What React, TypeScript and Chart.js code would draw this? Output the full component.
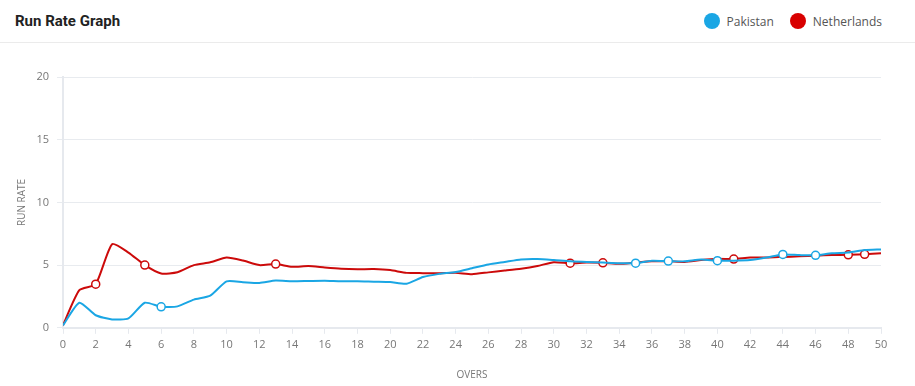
import React, { useEffect, useRef } from "react";
import { Chart, registerables } from "chart.js";

Chart.register(...registerables);

const overs: number[] = Array.from({ length: 51 }, (_, i) => i);

const pakistanRR: number[] = [
  0.2, 2.0, 1.0, 0.67, 0.75, 2.0, 1.67, 1.71, 2.25, 2.56,
  3.7, 3.64, 3.58, 3.77, 3.71, 3.73, 3.75, 3.71, 3.72, 3.68,
  3.65, 3.52, 4.05, 4.3, 4.45, 4.75, 5.05, 5.25, 5.45, 5.48,
  5.4, 5.3, 5.25, 5.2, 5.15, 5.15, 5.35, 5.32, 5.3, 5.45,
  5.35, 5.35, 5.4, 5.6, 5.85, 5.8, 5.78, 5.95, 6.0, 6.2, 6.25,
];

const netherlandsRR: number[] = [
  0.2, 3.0, 3.48, 6.67, 6.0, 5.0, 4.33, 4.43, 5.0, 5.22,
  5.6, 5.36, 5.0, 5.08, 4.86, 4.93, 4.81, 4.71, 4.67, 4.68,
  4.6, 4.38, 4.36, 4.35, 4.38, 4.28, 4.42, 4.56, 4.71, 4.93,
  5.23, 5.15, 5.2, 5.18, 5.1, 5.2, 5.3, 5.3, 5.25, 5.4,
  5.5, 5.48, 5.6, 5.6, 5.65, 5.7, 5.75, 5.8, 5.82, 5.86, 5.95,
];

const pakistanWickets: number[] = [6, 35, 37, 40, 44, 46];
const netherlandsWickets: number[] = [2, 5, 13, 31, 33, 41, 48, 49];

const PAK_COLOR = "#1aa6e4";
const NED_COLOR = "#cc0a0a";

export default function App() {
  const canvasRef = useRef<HTMLCanvasElement | null>(null);

  useEffect(() => {
    document.body.style.margin = "0";
    const ctx = canvasRef.current;
    if (!ctx) return;
    const mk = (vals: number[]) => overs.map((o, i) => ({ x: o, y: vals[i] }));
    const radii = (wk: number[]) => overs.map((o) => (wk.includes(o) ? 4 : 0));

    const chart = new Chart(ctx, {
      type: "line",
      data: {
        datasets: [
          {
            label: "Pakistan",
            data: mk(pakistanRR),
            borderColor: PAK_COLOR,
            backgroundColor: "#ffffff",
            borderWidth: 2,
            pointRadius: radii(pakistanWickets),
            pointBorderWidth: 1.5,
            pointBackgroundColor: "#ffffff",
            pointBorderColor: PAK_COLOR,
            tension: 0.2,
            fill: false,
          },
          {
            label: "Netherlands",
            data: mk(netherlandsRR),
            borderColor: NED_COLOR,
            backgroundColor: "#ffffff",
            borderWidth: 2,
            pointRadius: radii(netherlandsWickets),
            pointBorderWidth: 1.5,
            pointBackgroundColor: "#ffffff",
            pointBorderColor: NED_COLOR,
            tension: 0.2,
            fill: false,
          },
        ],
      },
      options: {
        animation: false,
        responsive: false,
        maintainAspectRatio: false,
        layout: { padding: { top: 34, right: 34, left: 16, bottom: 4 } },
        plugins: { legend: { display: false }, tooltip: { enabled: false } },
        scales: {
          x: {
            type: "linear",
            min: 0,
            max: 50,
            ticks: {
              stepSize: 2,
              color: "#777777",
              font: { family: "'Open Sans', sans-serif", size: 11 },
              padding: 4,
            },
            grid: {
              drawOnChartArea: false,
              color: "#e6e9ee",
              tickLength: 6,
            },
            border: { color: "#e6e9ee", width: 2 },
            title: {
              display: true,
              text: "OVERS",
              color: "#777777",
              font: { family: "'Open Sans', sans-serif", size: 10 },
              padding: { top: 14, bottom: 0 },
            },
          },
          y: {
            min: 0,
            max: 20,
            ticks: {
              stepSize: 5,
              color: "#777777",
              font: { family: "'Open Sans', sans-serif", size: 11 },
              padding: 8,
            },
            grid: { color: "#e8ebef", tickLength: 6 },
            border: { color: "#e6e9ee", width: 2 },
            title: {
              display: true,
              text: "RUN RATE",
              color: "#777777",
              font: { family: "'Open Sans', sans-serif", size: 10 },
              padding: { top: 0, bottom: 8 },
            },
            afterFit: (s: any) => {
              s.width = 47;
            },
          },
        },
      },
    });
    return () => chart.destroy();
  }, []);

  const legendItem = (color: string, text: string, mr: number) => (
    <div style={{ display: "flex", alignItems: "center", marginRight: mr }}>
      <span
        style={{
          width: 16,
          height: 16,
          borderRadius: "50%",
          background: color,
          display: "inline-block",
          marginRight: 7,
        }}
      />
      <span style={{ fontSize: 12, color: "#555", fontFamily: "'Open Sans', sans-serif" }}>{text}</span>
    </div>
  );

  return (
    <div
      style={{
        position: "relative",
        width: 915,
        height: 386,
        background: "#ffffff",
        fontFamily: "'Open Sans', sans-serif",
        overflow: "hidden",
      }}
    >
      <div
        style={{
          height: 43,
          borderBottom: "1px solid #ebebeb",
          display: "flex",
          alignItems: "center",
          justifyContent: "space-between",
          boxSizing: "border-box",
        }}
      >
        <div style={{ marginLeft: 15, fontWeight: 700, fontSize: 15, color: "#222", fontFamily: "Roboto, sans-serif" }}>
          Run Rate Graph
        </div>
        <div style={{ display: "flex", marginRight: 33 }}>
          {legendItem(PAK_COLOR, "Pakistan", 16)}
          {legendItem("#d80000", "Netherlands", 0)}
        </div>
      </div>
      <canvas ref={canvasRef} width={915} height={342} style={{ display: "block", width: 915, height: 342 }} />
    </div>
  );
}
